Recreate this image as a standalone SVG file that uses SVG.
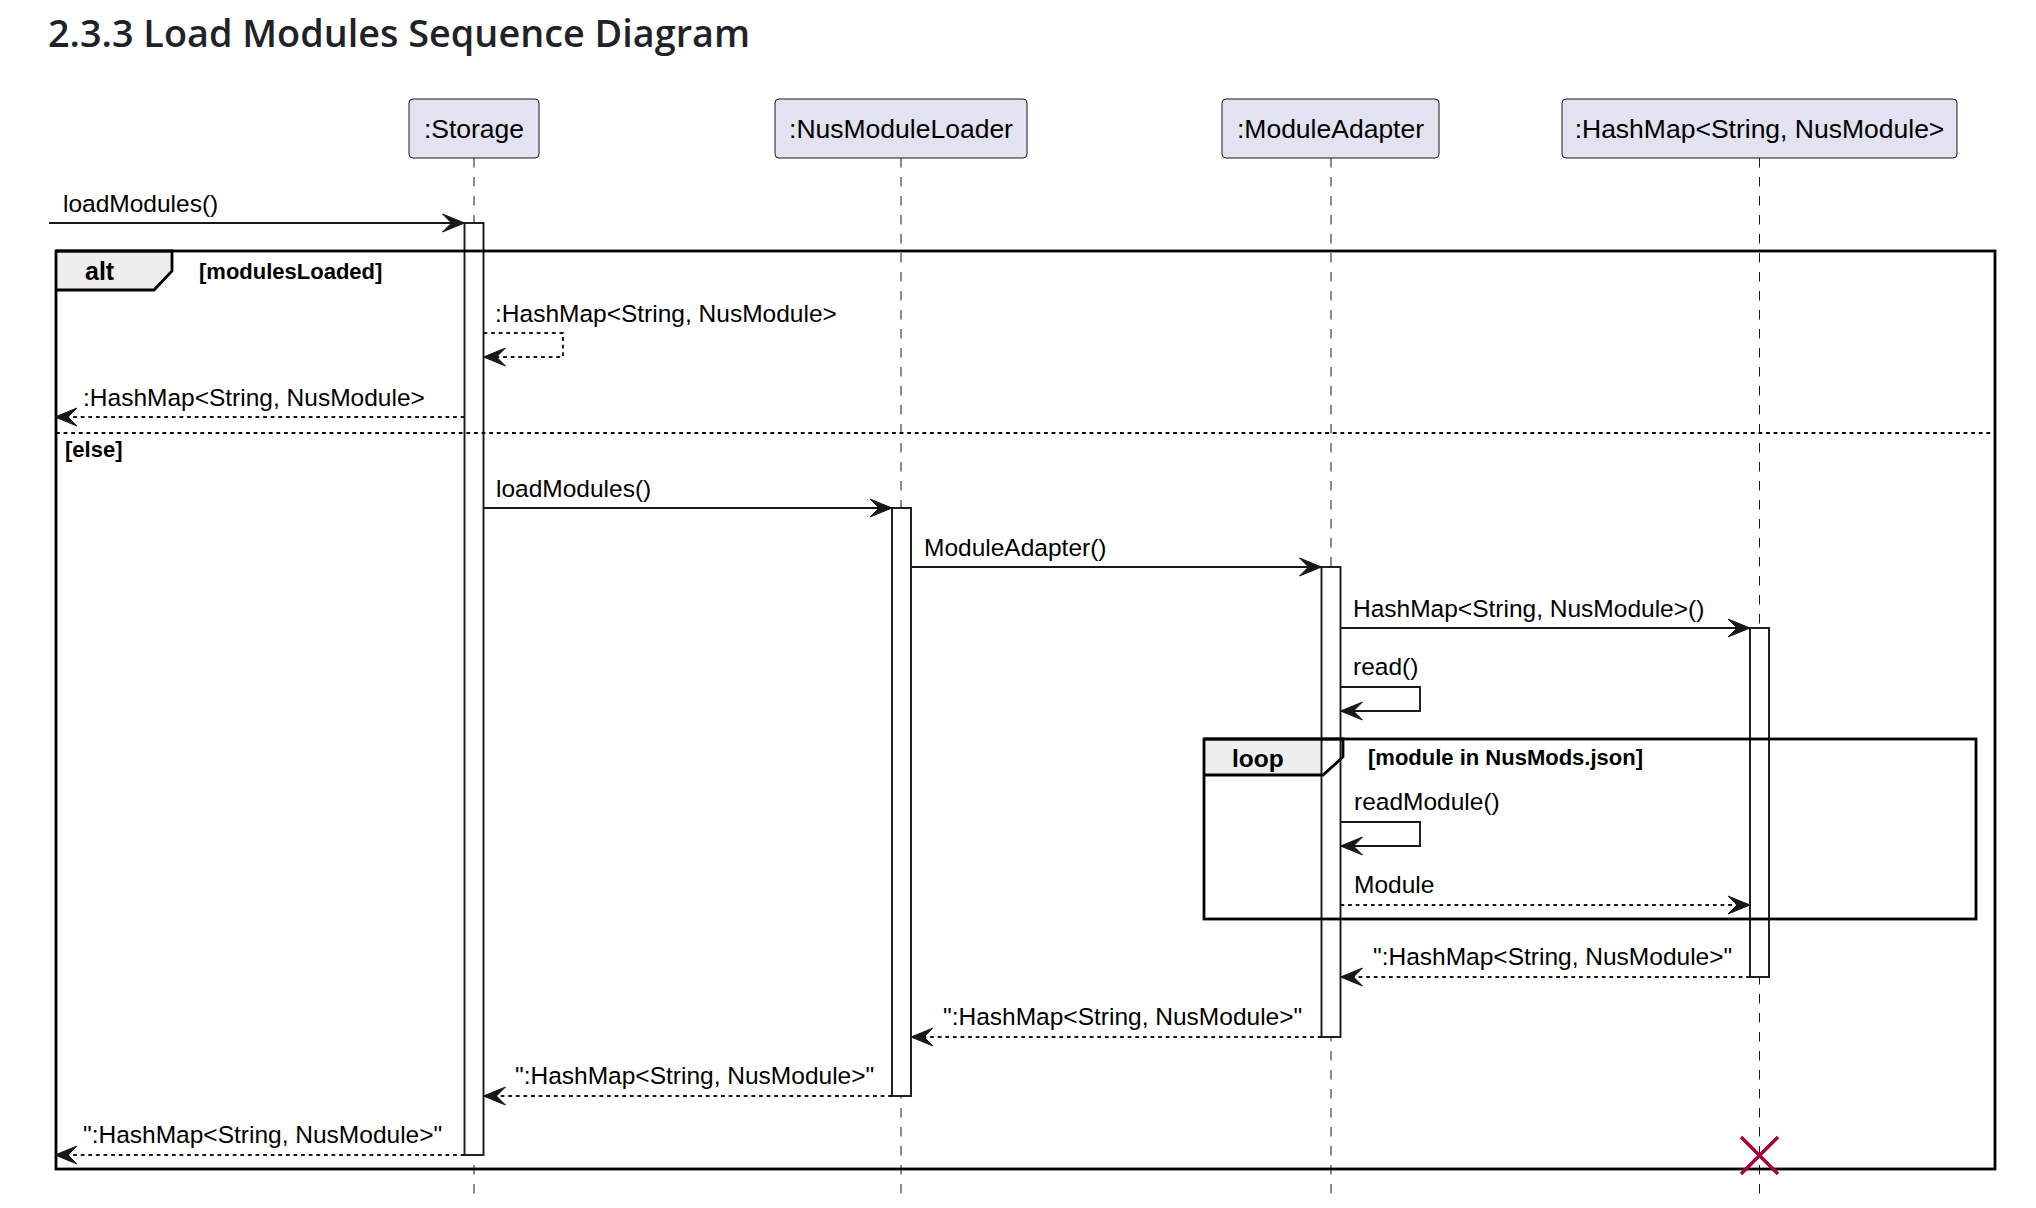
<svg xmlns="http://www.w3.org/2000/svg" width="2036" height="1208" viewBox="0 0 2036 1208">
<style>
.title{font-family:"Open Sans","Noto Sans",sans-serif;font-weight:600;font-size:37px;fill:#1f2328}
.pbox{fill:#E2E2F0;stroke:#181818;stroke-width:1}
.ptxt{font-family:"Liberation Sans",Arial,sans-serif;font-size:26.5px;fill:#000;text-anchor:middle}
.life{stroke:#181818;stroke-width:1;stroke-dasharray:9.5 9.5;fill:none}
.bar{fill:#fff;stroke:#181818;stroke-width:1.9}
.frame{fill:none;stroke:#000;stroke-width:2.8}
.tabfill{fill:#EEEEEE;stroke:none}
.ftxt{font-family:"Liberation Sans",Arial,sans-serif;font-weight:bold;font-size:25px;fill:#000}
.gtxt{font-family:"Liberation Sans",Arial,sans-serif;font-weight:bold;font-size:22px;fill:#000}
.msg{fill:none;stroke:#181818;stroke-width:1.9;marker-end:url(#ah)}
.ret{fill:none;stroke:#181818;stroke-width:1.9;stroke-dasharray:3.8 3.8;marker-end:url(#ah)}
.sep{fill:none;stroke:#000;stroke-width:1.9;stroke-dasharray:3.8 3.8}
.mtxt{font-family:"Liberation Sans",Arial,sans-serif;font-size:24.5px;fill:#000}
.kill{stroke:#A80036;stroke-width:3.5;fill:none}
</style>
<defs>
<marker id="ah" markerUnits="userSpaceOnUse" viewBox="-24 -11 25 22" markerWidth="25" markerHeight="22" refX="0" refY="0" orient="auto">
<path d="M0,0 L-22,-9 L-13,0 L-22,9 Z" fill="#181818" stroke="#181818" stroke-width="1" stroke-linejoin="miter"/>
</marker>
</defs>
<rect width="2036" height="1208" fill="#fff"/>
<text class="title" x="48" y="47" textLength="702" lengthAdjust="spacingAndGlyphs">2.3.3 Load Modules Sequence Diagram</text>

<g id="lifelines">
<line class="life" x1="474" y1="158" x2="474" y2="1195"/>
<line class="life" x1="901" y1="158" x2="901" y2="1195"/>
<line class="life" x1="1331" y1="158" x2="1331" y2="1195"/>
<line class="life" x1="1759.5" y1="158" x2="1759.5" y2="1195"/>
</g>

<g id="p-storage">
<rect class="pbox" x="409" y="99" width="130" height="59" rx="4"/>
<text class="ptxt" x="474" y="138">:Storage</text>
</g>
<g id="p-nusmoduleloader">
<rect class="pbox" x="775" y="99" width="252" height="59" rx="4"/>
<text class="ptxt" x="901" y="138">:NusModuleLoader</text>
</g>
<g id="p-moduleadapter">
<rect class="pbox" x="1222" y="99" width="217" height="59" rx="4"/>
<text class="ptxt" x="1330.5" y="138">:ModuleAdapter</text>
</g>
<g id="p-hashmap">
<rect class="pbox" x="1562" y="99" width="395" height="59" rx="4"/>
<text class="ptxt" x="1759.5" y="138">:HashMap&lt;String, NusModule&gt;</text>
</g>

<g id="tab-fills">
<path class="tabfill" d="M56,251 H172 V271 L154,290 H56 Z"/>
<path class="tabfill" d="M1204,739 H1343 V757 L1323,775 H1204 Z"/>
</g>

<g id="activations">
<rect class="bar" x="464.5" y="223" width="19" height="932"/>
<rect class="bar" x="892" y="508" width="19" height="588"/>
<rect class="bar" x="1321.5" y="567" width="19" height="470"/>
<rect class="bar" x="1750" y="628" width="19" height="349"/>
</g>

<g id="frame-alt">
<rect class="frame" x="56" y="251" width="1939" height="918"/>
<path class="frame" d="M56,251 H172 V271 L154,290 H56"/>
<text class="ftxt" x="85" y="280">alt</text>
<text class="gtxt" x="199" y="279">[modulesLoaded]</text>
<line class="sep" x1="56" y1="433" x2="1995" y2="433"/>
<text class="gtxt" x="65" y="457">[else]</text>
</g>

<g id="frame-loop">
<rect class="frame" x="1204" y="739" width="772" height="180"/>
<path class="frame" d="M1204,739 H1343 V757 L1323,775 H1204"/>
<text class="ftxt" x="1232" y="767" style="font-size:24.5px">loop</text>
<text class="gtxt" x="1368" y="765">[module in NusMods.json]</text>
</g>

<g id="connectors">
<path class="msg" d="M49,223 H464.5"/>
<text class="mtxt" x="63" y="212">loadModules()</text>

<path class="ret" d="M483.5,333 H563 V357 H483.5"/>
<text class="mtxt" x="495" y="322">:HashMap&lt;String, NusModule&gt;</text>

<path class="ret" d="M464.5,417 H55"/>
<text class="mtxt" x="83" y="406">:HashMap&lt;String, NusModule&gt;</text>

<path class="msg" d="M483.5,508 H892"/>
<text class="mtxt" x="496" y="497">loadModules()</text>

<path class="msg" d="M911,567 H1321.5"/>
<text class="mtxt" x="924" y="556">ModuleAdapter()</text>

<path class="msg" d="M1340.5,628 H1750"/>
<text class="mtxt" x="1353" y="617">HashMap&lt;String, NusModule&gt;()</text>

<path class="msg" d="M1340.5,687 H1420 V711 H1340.5"/>
<text class="mtxt" x="1353" y="675">read()</text>

<path class="msg" d="M1340.5,822 H1420 V846 H1340.5"/>
<text class="mtxt" x="1354" y="810">readModule()</text>

<path class="ret" d="M1340.5,905 H1750"/>
<text class="mtxt" x="1354" y="893">Module</text>

<path class="ret" d="M1750,977 H1340.5"/>
<text class="mtxt" x="1373" y="965">":HashMap&lt;String, NusModule&gt;"</text>

<path class="ret" d="M1321.5,1037 H911"/>
<text class="mtxt" x="943" y="1025">":HashMap&lt;String, NusModule&gt;"</text>

<path class="ret" d="M892,1096 H483.5"/>
<text class="mtxt" x="515" y="1084">":HashMap&lt;String, NusModule&gt;"</text>

<path class="ret" d="M464.5,1155 H55"/>
<text class="mtxt" x="83" y="1143">":HashMap&lt;String, NusModule&gt;"</text>
</g>

<g id="destroy-hashmap">
<path class="kill" d="M1741,1137 L1778,1174 M1778,1137 L1741,1174"/>
</g>
</svg>
